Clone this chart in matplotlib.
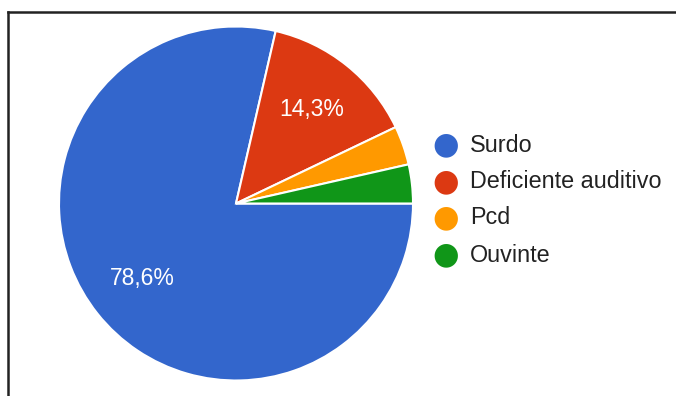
import matplotlib
matplotlib.use("Agg")
import matplotlib.pyplot as plt
from matplotlib.lines import Line2D

plt.rcParams['font.family'] = ['Liberation Sans', 'DejaVu Sans']

# respostas por categoria (%)
categorias = ["Surdo", "Deficiente auditivo", "Pcd", "Ouvinte"]
percentuais = [78.6, 14.3, 3.55, 3.55]
cores = ["#3366cc", "#dc3912", "#ff9900", "#109618"]

W, H = 676, 396
fig = plt.figure(figsize=(W / 100, H / 100), dpi=100)

# moldura (cortada a direita e embaixo)
fig.add_artist(Line2D([8 / W, 8 / W], [0, 1 - 12 / H], color="#222222", lw=1.8))
fig.add_artist(Line2D([8 / W, 1], [1 - 12 / H, 1 - 12 / H], color="#222222", lw=1.8))

# eixo do grafico de pizza: centro (236, 203.5), raio 177 px
cx, cy, r = 236, 203.5, 177
ax = fig.add_axes([(cx - r) / W, (H - cy - r) / H, 2 * r / W, 2 * r / H])


def rotulo(p):
    # fatias pequenas ficam sem rotulo
    if p < 5:
        return ""
    return ("%.1f%%" % p).replace(".", ",")


wedges, textos, autotextos = ax.pie(
    percentuais,
    colors=cores,
    startangle=0,
    counterclock=False,
    autopct=rotulo,
    pctdistance=0.68,
    wedgeprops=dict(edgecolor="white", linewidth=1.5),
    textprops=dict(color="white", fontsize=16.5),
)
ax.set_xlim(-1, 1)
ax.set_ylim(-1, 1)
ax.set_aspect("auto")
ax.axis("off")

# legenda com circulos
ys = [145, 182, 218, 255]
for nome, cor, y in zip(categorias, cores, ys):
    fig.text(446 / W, 1 - y / H, "\u25CF", color=cor, fontsize=22,
             ha="center", va="center", family="DejaVu Sans")
    fig.text(470 / W, 1 - y / H, nome, color="#222222", fontsize=16.8,
             ha="left", va="center")

fig.savefig("out.png", dpi=100)
